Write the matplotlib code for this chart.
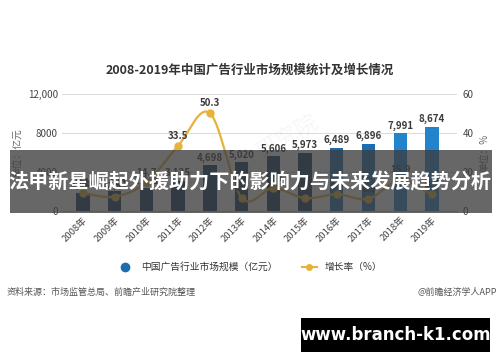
import numpy as np
import matplotlib
matplotlib.use('Agg')
import matplotlib.pyplot as plt
from matplotlib.lines import Line2D
from matplotlib.patches import Rectangle

plt.rcParams['font.family'] = ['Noto Sans CJK SC', 'DejaVu Sans']

years = ['2008年', '2009年', '2010年', '2011年', '2012年', '2013年',
         '2014年', '2015年', '2016年', '2017年', '2018年', '2019年']
market = [1900, 2041, 2341, 3125, 4698, 5020, 5606, 5973, 6489, 6896, 7991, 8674]
growth = [9.1, 7.4, 14.7, 33.5, 50.3, 6.8, 11.7, 6.6, 8.6, 6.3, 15.9, 8.5]
bar_colors = ['#0f3a63'] * 8 + ['#1d6cb0', '#1d6cb0', '#2384cc', '#2384cc']

fig = plt.figure(figsize=(5, 3.62), dpi=100)
ax = fig.add_axes([0.124, 0.417, 0.79, 0.323])
x = np.arange(len(years))

ax.bar(x, market, width=0.42, color=bar_colors, zorder=2)
for i, v in enumerate(market):
    ax.text(i, v + 250, f'{v:,}', ha='center', va='bottom', fontsize=7,
            color='#3a3a3a', fontweight='bold', zorder=4)

ax.set_xlim(-0.66, 11.79)
ax.set_ylim(0, 12000)
ax.set_yticks([0, 4000, 8000, 12000])
ax.set_yticklabels(['0', '4000', '8000', '12,000'], fontsize=7, color='#444444')
ax.set_xticks(x)
ax.set_xticklabels(years, rotation=45, ha='right', rotation_mode='anchor',
                   fontsize=6.8, color='#444444')
ax.tick_params(length=0, pad=3)
ax.grid(axis='y', color='#dddddd', lw=0.8, zorder=0)
for s in ['top', 'right', 'left']:
    ax.spines[s].set_visible(False)
ax.spines['bottom'].set_color('#cccccc')
ax.set_ylabel('单位：亿元', fontsize=7, color='#666666', labelpad=4)

ax2 = ax.twinx()
# smooth curve through the points (Catmull-Rom)
g = np.array(growth, dtype=float)
pts = np.concatenate([[2 * g[0] - g[1]], g, [2 * g[-1] - g[-2]]])
xs, ys = [], []
for i in range(len(g) - 1):
    t = np.linspace(0, 1, 20)
    p0, p1, p2, p3 = pts[i], pts[i + 1], pts[i + 2], pts[i + 3]
    yy = 0.5 * ((2 * p1) + (-p0 + p2) * t + (2 * p0 - 5 * p1 + 4 * p2 - p3) * t ** 2
                + (-p0 + 3 * p1 - 3 * p2 + p3) * t ** 3)
    xs.extend(i + t)
    ys.extend(yy)
ax2.plot(xs, ys, color='#e6b23a', lw=1.6, zorder=3)
ax2.plot(x, g, 'o', color='#e6b23a', ms=5, zorder=3)
for i, v in enumerate(growth):
    ax2.text(i, v + 2.5, f'{v}', ha='center', va='bottom', fontsize=7,
             color='#3a3a3a', fontweight='bold')
ax2.set_ylim(0, 60)
ax2.set_yticks([0, 20, 40, 60])
ax2.tick_params(length=0, labelsize=7, labelcolor='#444444', pad=4)
for s in ax2.spines.values():
    s.set_visible(False)
ax2.set_ylabel('单位：%', fontsize=7, color='#666666', labelpad=4)

fig.text(0.5, 0.805, '2008-2019年中国广告行业市场规模统计及增长情况', ha='center',
         va='center', fontsize=9, fontweight='bold', color='#333333')

# watermark
fig.text(0.5, 0.56, '前瞻产业研究院', ha='center', va='center', fontsize=16,
         rotation=30, color='#000000', alpha=0.035)

handles = [Line2D([], [], marker='o', ls='none', color='#1d6cb0', ms=6),
           Line2D([], [], marker='o', color='#e6b23a', ms=4, lw=1.5)]
fig.legend(handles, ['中国广告行业市场规模（亿元）', '增长率（%）'], loc='center',
           bbox_to_anchor=(0.5, 0.262), ncol=2, frameon=False, fontsize=7,
           handlelength=1.6, columnspacing=2.5, labelcolor='#333333')

fig.text(0.014, 0.193, '资料来源：市场监管总局、前瞻产业研究院整理', fontsize=6.5,
         color='#555555', va='center')
fig.text(0.994, 0.193, '@前瞻经济学人APP', fontsize=6.5, color='#555555',
         va='center', ha='right')

# overlay banner
fig.patches.append(Rectangle((0.02, 1 - 213 / 362), 0.964, 63 / 362,
                             transform=fig.transFigure, facecolor='#3c3c3c',
                             alpha=0.78, zorder=5))
fig.text(0.5, 1 - 182 / 362, '法甲新星崛起外援助力下的影响力与未来发展趋势分析',
         ha='center', va='center', fontsize=14.5, fontweight='bold',
         color='white', zorder=6)

fig.patches.append(Rectangle((0.602, 1 - 352 / 362), 0.378, 34 / 362,
                             transform=fig.transFigure, facecolor='black', zorder=5))
fig.text(0.791, 1 - 335 / 362, 'www.branch-k1.com', ha='center', va='center',
         fontsize=12, fontweight='bold', color='white', family='DejaVu Sans',
         zorder=6)

fig.savefig('out.png', dpi=100)
